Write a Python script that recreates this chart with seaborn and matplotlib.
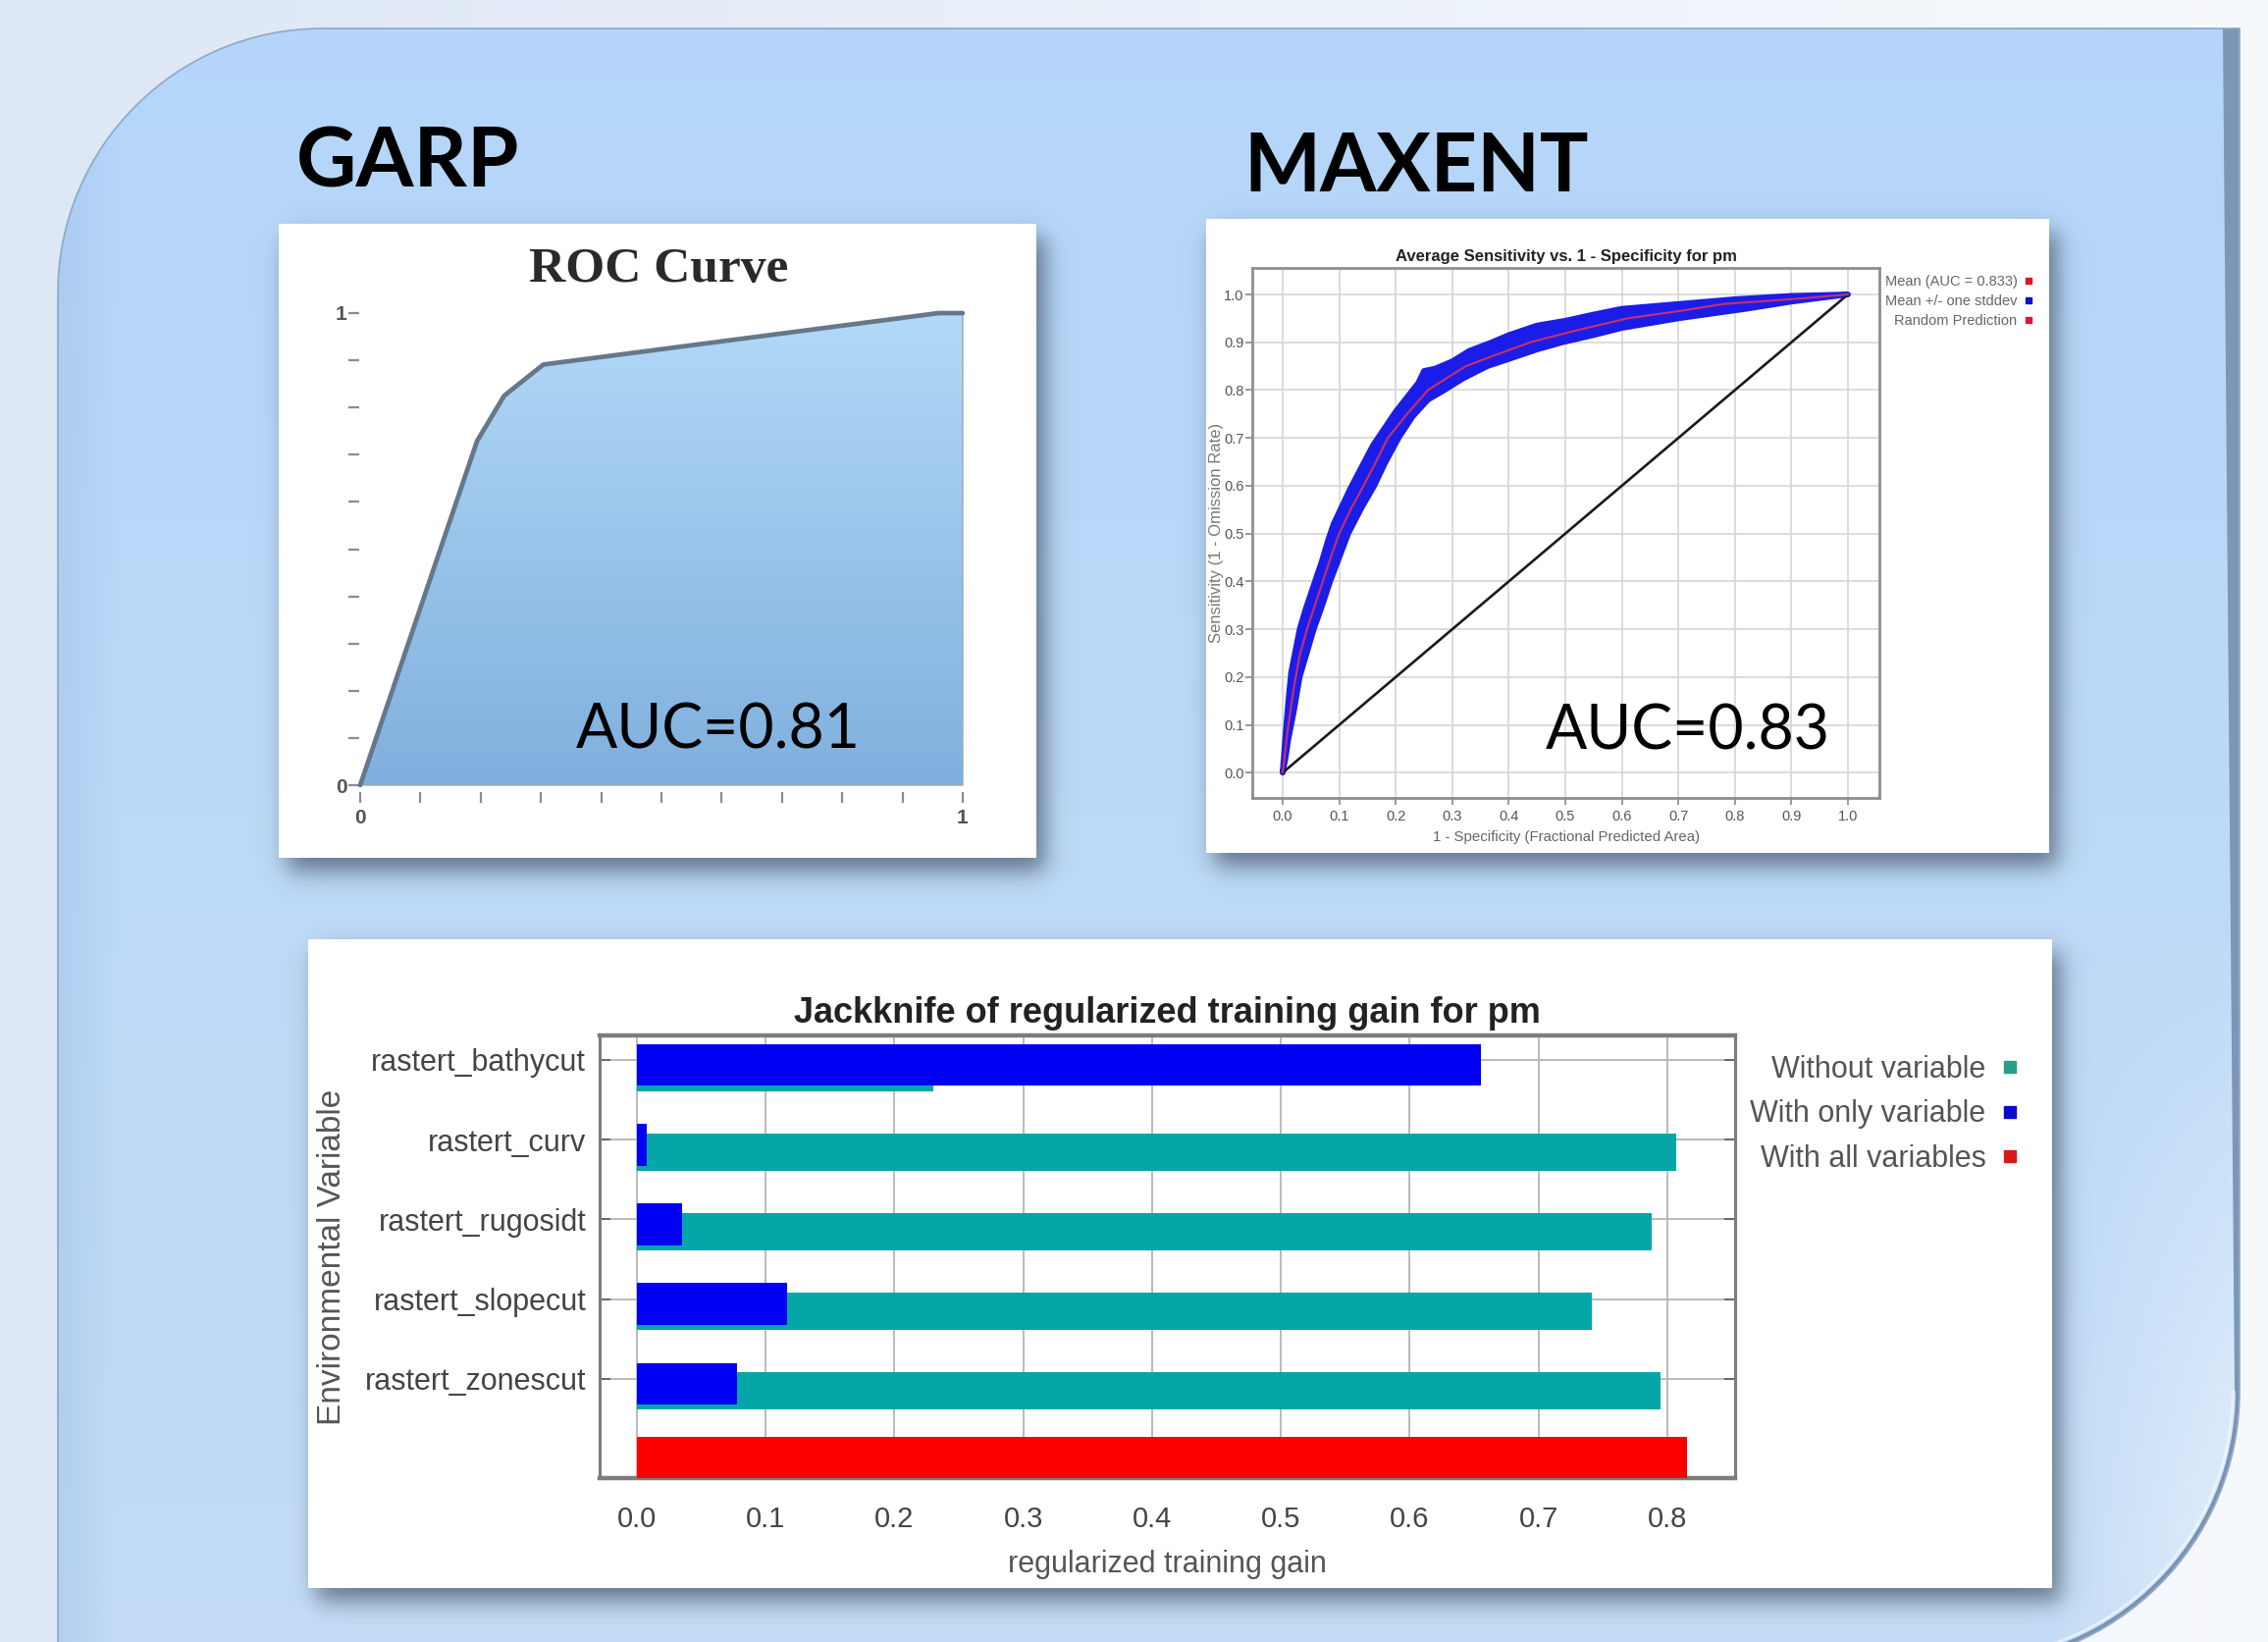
import numpy as np
import pandas as pd
import matplotlib
matplotlib.use("Agg")
import matplotlib.pyplot as plt
import seaborn as sns
from matplotlib.path import Path
from matplotlib.patches import PathPatch, Rectangle, Polygon
from matplotlib.lines import Line2D

# ---------------------------------------------------------------- data
# GARP ROC curve
garp_fpr = [0.0, 0.194, 0.239, 0.304, 0.96, 1.0]
garp_tpr = [0.0, 0.729, 0.825, 0.891, 1.0, 1.0]
garp_ticks = [0.0, 0.1, 0.2, 0.3, 0.4, 0.5, 0.6, 0.7, 0.8, 0.9, 1.0]
garp_tick_labels = ["0", "", "", "", "", "", "", "", "", "", "1"]
garp_auc = 0.81

# MAXENT average ROC (mean curve and +/- one stddev envelope)
maxent_mean_fpr = [0.0, 0.005, 0.01, 0.02, 0.03, 0.043, 0.057, 0.071, 0.085, 0.10,
                   0.12, 0.143, 0.165, 0.186, 0.22, 0.257, 0.29, 0.324, 0.38, 0.438,
                   0.52, 0.61, 0.70, 0.78, 0.90, 1.0]
maxent_mean_tpr = [0.0, 0.05, 0.10, 0.18, 0.245, 0.30, 0.35, 0.40, 0.45, 0.50,
                   0.55, 0.60, 0.65, 0.70, 0.75, 0.80, 0.825, 0.85, 0.875, 0.90,
                   0.925, 0.95, 0.965, 0.98, 0.99, 1.0]
maxent_upper_fpr = [0.0, 0.005, 0.01, 0.015, 0.02, 0.03, 0.04, 0.05, 0.06, 0.07,
                    0.08, 0.09, 0.10, 0.12, 0.14, 0.16, 0.18, 0.20, 0.22, 0.24,
                    0.25, 0.27, 0.30, 0.33, 0.37, 0.40, 0.45, 0.50, 0.55, 0.60,
                    0.70, 0.80, 0.90, 1.0]
maxent_upper_tpr = [0.0, 0.08, 0.15, 0.21, 0.24, 0.30, 0.34, 0.375, 0.41, 0.445,
                    0.485, 0.52, 0.545, 0.595, 0.64, 0.685, 0.72, 0.755, 0.785, 0.815,
                    0.84, 0.845, 0.86, 0.882, 0.90, 0.915, 0.935, 0.945, 0.958, 0.97,
                    0.98, 0.99, 0.997, 1.0]
maxent_lower_fpr = [0.0, 0.005, 0.01, 0.02, 0.03, 0.04, 0.055, 0.07, 0.084, 0.10,
                    0.116, 0.14, 0.162, 0.18, 0.205, 0.23, 0.257, 0.286, 0.32, 0.362,
                    0.40, 0.45, 0.495, 0.55, 0.60, 0.70, 0.82, 0.90, 1.0]
maxent_lower_tpr = [0.0, 0.03, 0.07, 0.13, 0.20, 0.24, 0.30, 0.35, 0.40, 0.45,
                    0.50, 0.555, 0.60, 0.645, 0.70, 0.745, 0.78, 0.80, 0.825, 0.85,
                    0.865, 0.885, 0.90, 0.915, 0.93, 0.95, 0.97, 0.985, 1.0]
random_line = [0.0, 1.0]
maxent_ticks = [0.0, 0.1, 0.2, 0.3, 0.4, 0.5, 0.6, 0.7, 0.8, 0.9, 1.0]
maxent_auc_mean = 0.833
maxent_auc = 0.83

# Jackknife of regularized training gain
jk_variables = ["rastert_bathycut", "rastert_curv", "rastert_rugosidt",
                "rastert_slopecut", "rastert_zonescut"]
jk_without = [0.23, 0.807, 0.788, 0.741, 0.795]
jk_only = [0.655, 0.008, 0.035, 0.117, 0.078]
jk_all = 0.815
jk_ticks = [0.0, 0.1, 0.2, 0.3, 0.4, 0.5, 0.6, 0.7, 0.8]

# ---------------------------------------------------------------- style
W, H, DPI = 2311, 1673, 100
sns.set_theme(style="white")
plt.rcParams["font.family"] = ["Liberation Sans", "DejaVu Sans"]
NARROW = ["Liberation Sans Narrow", "Liberation Sans", "DejaVu Sans"]
TEAL, BLUE, RED = "#05a6a8", "#0000f2", "#fa0000"

fig = plt.figure(figsize=(W / DPI, H / DPI), dpi=DPI)


def to_fig_rect(xmap, ymap, xlim, ylim):
    """Axes rectangle (figure fraction) from pixel anchors of two data values."""
    (dx0, px0), (dx1, px1) = xmap
    (dy0, py0), (dy1, py1) = ymap

    def fx(d):
        return px0 + (d - dx0) * (px1 - px0) / (dx1 - dx0)

    def fy(d):
        return py0 + (d - dy0) * (py1 - py0) / (dy1 - dy0)

    left, right = fx(xlim[0]), fx(xlim[1])
    bottom, top = fy(ylim[0]), fy(ylim[1])
    return [left / W, 1 - bottom / H, (right - left) / W, (bottom - top) / H]


# ---------------------------------------------------------------- slide backdrop
bg = fig.add_axes([0, 0, 1, 1])
bg.set_xlim(0, W)
bg.set_ylim(H, 0)
bg.axis("off")

bx = np.linspace(0, 1, 200)[None, :, None]
c_l = np.array([0.865, 0.908, 0.962])
c_r = np.array([0.968, 0.978, 0.992])
back = c_l * (1 - bx) + c_r * bx + np.zeros((120, 1, 1))
bg.imshow(back, extent=[0, W, H, 0], aspect="auto", interpolation="bilinear", zorder=0)

# rounded blue panel
PX0, PY0, PX1 = 59, 29, 2282
R_TL, R_BR, CY_BR = 270, 280, 1417
K = 0.5523
BOT = CY_BR + R_BR
verts = [
    (PX0, BOT),
    (PX0, PY0 + R_TL),
    (PX0, PY0 + R_TL - K * R_TL), (PX0 + R_TL - K * R_TL, PY0), (PX0 + R_TL, PY0),
    (PX1, PY0),
    (PX1, CY_BR),
    (PX1, CY_BR + K * R_BR), (PX1 - R_BR + K * R_BR, BOT), (PX1 - R_BR, BOT),
    (PX0, BOT),
    (PX0, BOT),
]
codes = [Path.MOVETO, Path.LINETO, Path.CURVE4, Path.CURVE4, Path.CURVE4,
         Path.LINETO, Path.LINETO, Path.CURVE4, Path.CURVE4, Path.CURVE4,
         Path.LINETO, Path.CLOSEPOLY]
panel_path = Path(verts, codes)
panel = PathPatch(panel_path, facecolor="none", edgecolor="#93aac8", linewidth=1.3,
                  transform=bg.transData, zorder=3)
bg.add_patch(panel)

gy, gx = np.mgrid[0:H:4, 0:W:4].astype(float)
t = (gy / H)[..., None]
col = np.array([0.705, 0.838, 0.98]) * (1 - t) + np.array([0.77, 0.865, 0.962]) * t
w_br = (np.clip((gx - 2090) / 190, 0, 1) * np.clip((gy - 950) / 600, 0, 1))[..., None]
col = col * (1 - w_br) + np.array([0.875, 0.93, 0.985]) * w_br
w_l = (np.clip(1 - (gx - PX0) / 60, 0, 1) * 0.45)[..., None]
col = col * (1 - w_l) + np.array([0.62, 0.75, 0.9]) * w_l
pim = bg.imshow(col, extent=[0, W, H, 0], aspect="auto", interpolation="bilinear", zorder=1)
pim.set_clip_path(panel)

# bevelled right edge of the panel
strip = Polygon([(PX1 - 17, PY0), (PX1 - 5, CY_BR), (PX1 + 2, CY_BR), (PX1 + 2, PY0)],
                closed=True, facecolor="#7d95b6", edgecolor="none", zorder=2)
bg.add_patch(strip)
strip.set_clip_path(panel)
arc = Path([(PX1, CY_BR), (PX1, CY_BR + K * R_BR), (PX1 - R_BR + K * R_BR, BOT), (PX1 - R_BR, BOT)],
           [Path.MOVETO, Path.CURVE4, Path.CURVE4, Path.CURVE4])
arc_patch = PathPatch(arc, facecolor="none", edgecolor="#7a92b3", linewidth=6, zorder=2)
bg.add_patch(arc_patch)
arc_patch.set_clip_path(panel)
r_in = R_BR - 7
arc_in = Path([(PX1 - 7, CY_BR), (PX1 - 7, CY_BR + K * r_in),
               (PX1 - R_BR + K * r_in, CY_BR + r_in), (PX1 - R_BR, CY_BR + r_in)],
              [Path.MOVETO, Path.CURVE4, Path.CURVE4, Path.CURVE4])
bg.add_patch(PathPatch(arc_in, facecolor="none", edgecolor="#f2f7fd", linewidth=1.6,
                       alpha=0.8, zorder=2))

# white cards with soft drop shadows
GARP_BOX = (284, 228, 1056, 874)
MAXENT_BOX = (1229, 223, 2088, 869)
JK_BOX = (314, 957, 2091, 1618)

sx = np.arange(0, W, 2) + 1.0
sy = np.arange(0, H, 2) + 1.0


def soft_box(box, dx, dy, s):
    x0, y0, x1, y1 = box
    fx = 1 / (1 + np.exp(-(sx - x0 - dx) / s)) - 1 / (1 + np.exp(-(sx - x1 - dx) / s))
    fy = 1 / (1 + np.exp(-(sy - y0 - dy) / s)) - 1 / (1 + np.exp(-(sy - y1 - dy) / s))
    return np.outer(fy, fx)


shadow = np.zeros((len(sy), len(sx)))
for box in (GARP_BOX, MAXENT_BOX, JK_BOX):
    shadow = np.maximum(shadow, soft_box(box, 9, 14, 7))
rgba = np.zeros((len(sy), len(sx), 4), dtype=np.float32)
rgba[..., 0], rgba[..., 1], rgba[..., 2] = 0.22, 0.27, 0.34
rgba[..., 3] = 0.68 * shadow
bg.imshow(rgba, extent=[0, W, H, 0], aspect="auto", interpolation="bilinear", zorder=4)

for x0, y0, x1, y1 in (GARP_BOX, MAXENT_BOX, JK_BOX):
    bg.add_patch(Rectangle((x0, y0), x1 - x0, y1 - y0, facecolor="white",
                           edgecolor="none", zorder=5))

bg.set_xlim(0, W)
bg.set_ylim(H, 0)

bg.text(302, 190, "GARP", family=["Lato", "DejaVu Sans"], fontsize=61,
        fontweight="bold", color="black", ha="left", va="baseline", zorder=6)
bg.text(1267, 195, "MAXENT", family=["Lato", "DejaVu Sans"], fontsize=59.5,
        fontweight="bold", color="black", ha="left", va="baseline", zorder=6)

# ---------------------------------------------------------------- GARP ROC
G_XLIM, G_YLIM = (-0.02, 1.012), (-0.015, 1.03)
ax_g = fig.add_axes(to_fig_rect(((0, 367), (1, 981)), ((0, 800), (1, 319)), G_XLIM, G_YLIM))
ax_g.set_facecolor("none")
for s in ax_g.spines.values():
    s.set_visible(False)

area = ax_g.fill_between(garp_fpr, garp_tpr, 0, facecolor="none",
                         edgecolor="#97a9ba", linewidth=1.0, zorder=2)
shade = np.linspace(0, 1, 256)[:, None, None]
grad = np.array([0.70, 0.85, 0.97]) * (1 - shade) + np.array([0.50, 0.69, 0.87]) * shade
im = ax_g.imshow(grad, extent=[0, 1, 0, max(garp_tpr)], origin="upper", aspect="auto",
                 interpolation="bilinear", zorder=1)
im.set_clip_path(area.get_paths()[0], ax_g.transData)
sns.lineplot(x=garp_fpr, y=garp_tpr, ax=ax_g, color="#66778a", linewidth=3.4,
             solid_joinstyle="round", zorder=3)
ax_g.set_xlim(*G_XLIM)
ax_g.set_ylim(*G_YLIM)
ax_g.set_xticks(garp_ticks)
ax_g.set_xticklabels(garp_tick_labels)
ax_g.set_yticks(garp_ticks)
ax_g.set_yticklabels(garp_tick_labels)
ax_g.tick_params(axis="x", bottom=True, direction="out", length=8, width=1.6,
                 color="#8c8c8c", pad=4, labelsize=15, labelcolor="#555555")
ax_g.tick_params(axis="y", left=True, direction="in", length=8, width=1.6,
                 color="#8c8c8c", pad=1, labelsize=15, labelcolor="#555555")
for lab in ax_g.get_xticklabels() + ax_g.get_yticklabels():
    lab.set_fontweight("bold")
ax_g.set_xlabel("")
ax_g.set_ylabel("")
ax_g.set_title("ROC Curve", family=["Liberation Serif", "DejaVu Serif"], fontsize=37,
               fontweight="bold", color="#2a2a2a", pad=13)
ax_g.text(0.594, 0.077, f"AUC={garp_auc:.2f}", family=["Lato", "DejaVu Sans"],
          fontsize=45, color="black", ha="center", va="baseline", zorder=5)

# ---------------------------------------------------------------- MAXENT ROC
M_LIM = (-0.053, 1.055)
ax_m = fig.add_axes(to_fig_rect(((0, 1307), (1, 1883)), ((0, 787.3), (1, 300)), M_LIM, M_LIM))
ax_m.set_facecolor("white")
ax_m.fill(np.r_[maxent_upper_fpr, maxent_lower_fpr[::-1]],
          np.r_[maxent_upper_tpr, maxent_lower_tpr[::-1]],
          facecolor="#1c1ce8", edgecolor="#1c1ce8", linewidth=4.2,
          joinstyle="round", zorder=2)
sns.lineplot(x=random_line, y=random_line, ax=ax_m, color="#1a1a1a", linewidth=1.9, zorder=3)
sns.lineplot(x=maxent_mean_fpr, y=maxent_mean_tpr, ax=ax_m, color="#c8306a",
             linewidth=1.5, zorder=4)
ax_m.set_xlim(*M_LIM)
ax_m.set_ylim(*M_LIM)
ax_m.set_xticks(maxent_ticks)
ax_m.set_yticks(maxent_ticks)
ax_m.set_xticklabels([f"{v:.1f}" for v in maxent_ticks])
ax_m.set_yticklabels([f"{v:.1f}" for v in maxent_ticks])
ax_m.grid(True, color="#d6d6d6", linewidth=1.2)
ax_m.set_axisbelow(True)
for s in ax_m.spines.values():
    s.set_color("#8e8e8e")
    s.set_linewidth(2.0)
ax_m.tick_params(axis="both", left=True, bottom=True, direction="out", length=5,
                 width=1.2, color="#888888", labelsize=10.5, labelcolor="#555555")
ax_m.tick_params(axis="y", pad=1.5)
ax_m.tick_params(axis="x", pad=3.5)
for lab in ax_m.get_xticklabels() + ax_m.get_yticklabels():
    lab.set_family(NARROW)
ax_m.set_title("Average Sensitivity vs. 1 - Specificity for pm", family=NARROW,
               fontsize=12, fontweight="bold", color="#222222", pad=5)
ax_m.set_xlabel("1 - Specificity (Fractional Predicted Area)", family=NARROW,
                fontsize=10.8, color="#666666", labelpad=5)
ax_m.set_ylabel("Sensitivity (1 - Omission Rate)", family=NARROW, fontsize=12,
                color="#777777", labelpad=0)
m_handles = [Line2D([0], [0], marker="s", linestyle="none", markersize=5,
                    markerfacecolor=c, markeredgecolor=c)
             for c in ("#e01818", "#1010d0", "#d81840")]
ax_m.legend(m_handles, [f"Mean (AUC = {maxent_auc_mean:.3f})", "Mean +/- one stddev",
                        "Random Prediction"],
            loc="upper right", bbox_to_anchor=(2073, 280), bbox_transform=bg.transData,
            markerfirst=False, alignment="right", frameon=False, borderaxespad=0,
            borderpad=0, handlelength=0.8, handletextpad=0.4, labelspacing=0.4,
            prop={"family": NARROW, "size": 10.5}, labelcolor="#666666")
ax_m.text(0.717, 0.048, f"AUC={maxent_auc:.2f}", family=["Lato", "DejaVu Sans"],
          fontsize=45, color="black", ha="center", va="baseline", zorder=6)

# ---------------------------------------------------------------- Jackknife
J_XLIM, J_YLIM = (-0.0287, 0.8525), (5.25, -0.31)
ax_j = fig.add_axes(to_fig_rect(((0, 648.7), (0.8, 1699)), ((0, 1080), (5, 1486)), J_XLIM, J_YLIM))
ax_j.set_facecolor("white")
rows = np.arange(len(jk_variables))
without_df = pd.DataFrame({"gain": jk_without, "row": rows + 0.155})
only_df = pd.DataFrame({"gain": jk_only, "row": rows + 0.063})
all_df = pd.DataFrame({"gain": [jk_all], "row": [float(len(jk_variables))]})
sns.barplot(data=without_df, x="gain", y="row", orient="y", native_scale=True,
            width=0.47, color=TEAL, saturation=1, errorbar=None, linewidth=0, ax=ax_j, zorder=3)
sns.barplot(data=only_df, x="gain", y="row", orient="y", native_scale=True,
            width=0.525, color=BLUE, saturation=1, errorbar=None, linewidth=0, ax=ax_j, zorder=4)
sns.barplot(data=all_df, x="gain", y="row", orient="y", native_scale=True,
            width=0.53, color=RED, saturation=1, errorbar=None, linewidth=0, ax=ax_j, zorder=4)
ax_j.set_xlim(*J_XLIM)
ax_j.set_ylim(*J_YLIM)
ax_j.set_xticks(jk_ticks)
ax_j.set_xticklabels([f"{v:.1f}" for v in jk_ticks])
ax_j.set_yticks(rows)
ax_j.set_yticklabels(jk_variables)
ax_j.grid(True, color="#b4b4b4", linewidth=1.3)
ax_j.set_axisbelow(True)
for s in ax_j.spines.values():
    s.set_color("#7c7c7c")
    s.set_linewidth(2.2)
ax_j.spines["top"].set_linewidth(3.2)
ax_j.spines["bottom"].set_linewidth(3.2)
ax_j.tick_params(axis="y", left=True, right=True, direction="in", length=8, width=1.4,
                 color="#666666", pad=10, labelsize=22, labelcolor="#444444")
ax_j.tick_params(axis="x", bottom=False, length=0, pad=20, labelsize=21,
                 labelcolor="#444444")
ax_j.set_title("Jackknife of regularized training gain for pm", fontsize=26,
               fontweight="bold", color="#222222", pad=9)
ax_j.set_xlabel("regularized training gain", fontsize=22, color="#555555", labelpad=12)
ax_j.set_ylabel("Environmental Variable", fontsize=24, color="#555555", labelpad=12.5)
j_handles = [Line2D([0], [0], marker="s", linestyle="none", markersize=8.5,
                    markerfacecolor=c, markeredgecolor=c)
             for c in ("#2a9c8a", "#0a0ac8", "#d81a1a")]
ax_j.legend(j_handles, ["Without variable", "With only variable", "With all variables"],
            loc="upper right", bbox_to_anchor=(2057, 1075), bbox_transform=bg.transData,
            markerfirst=False, alignment="right", frameon=False, borderaxespad=0,
            borderpad=0, handlelength=0.6, handletextpad=0.5, labelspacing=0.5,
            fontsize=22, labelcolor="#555555")

fig.savefig("out.png", dpi=DPI)
